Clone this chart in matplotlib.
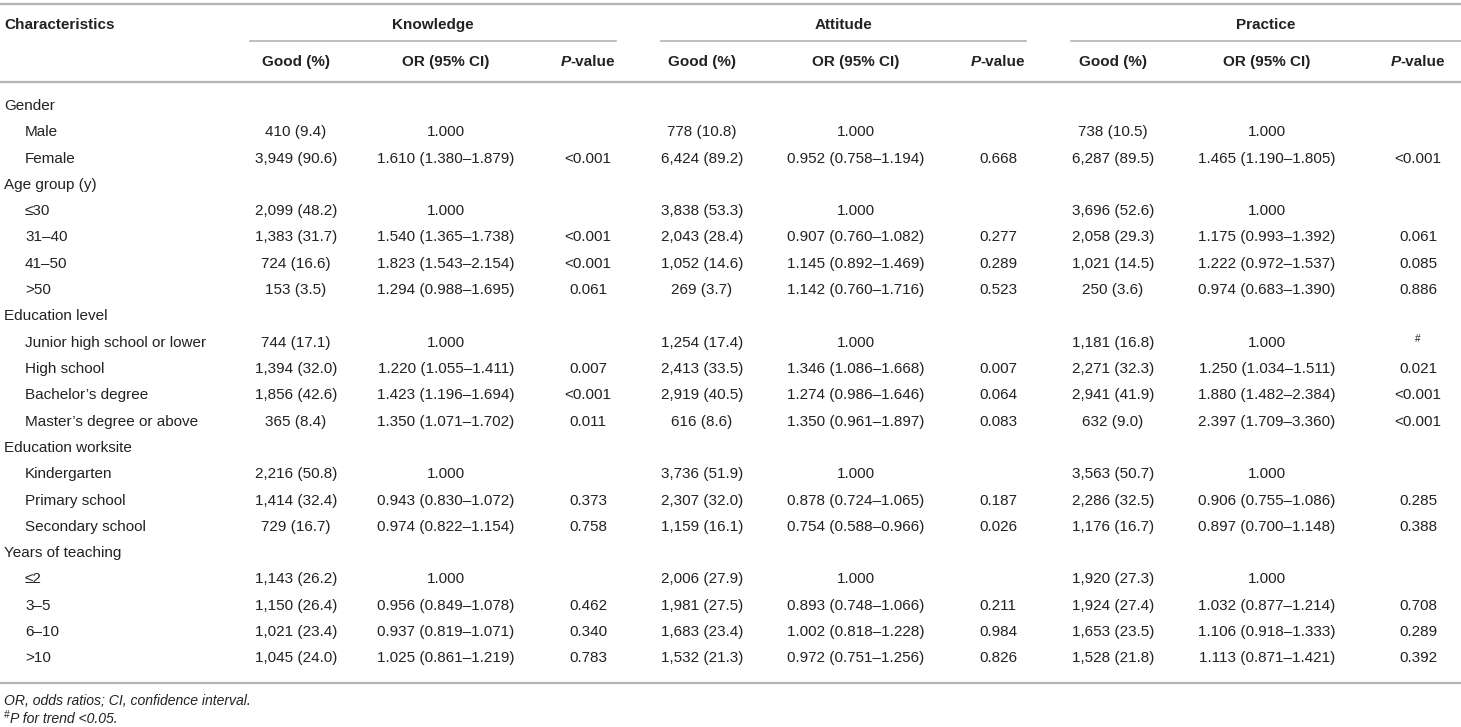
import matplotlib
matplotlib.use("Agg")
import matplotlib.pyplot as plt

plt.rcParams['font.family'] = ['Liberation Sans', 'DejaVu Sans']

# 表格数据
row_labels = ["Gender", "Male", "Female", "Age group (y)", "≤30", "31–40", "41–50", ">50",
              "Education level", "Junior high school or lower", "High school", "Bachelor’s degree",
              "Master’s degree or above", "Education worksite", "Kindergarten", "Primary school",
              "Secondary school", "Years of teaching", "≤2", "3–5", "6–10", ">10"]
group_rows = ["Gender", "Age group (y)", "Education level", "Education worksite", "Years of teaching"]

domains = ["Knowledge", "Attitude", "Practice"]
sub_headers = ["Good (%)", "OR (95% CI)", "P-value"]

knowledge_good = ["", "410 (9.4)", "3,949 (90.6)", "", "2,099 (48.2)", "1,383 (31.7)", "724 (16.6)", "153 (3.5)",
                  "", "744 (17.1)", "1,394 (32.0)", "1,856 (42.6)", "365 (8.4)", "", "2,216 (50.8)",
                  "1,414 (32.4)", "729 (16.7)", "", "1,143 (26.2)", "1,150 (26.4)", "1,021 (23.4)", "1,045 (24.0)"]
knowledge_or = ["", "1.000", "1.610 (1.380–1.879)", "", "1.000", "1.540 (1.365–1.738)", "1.823 (1.543–2.154)",
                "1.294 (0.988–1.695)", "", "1.000", "1.220 (1.055–1.411)", "1.423 (1.196–1.694)",
                "1.350 (1.071–1.702)", "", "1.000", "0.943 (0.830–1.072)", "0.974 (0.822–1.154)", "",
                "1.000", "0.956 (0.849–1.078)", "0.937 (0.819–1.071)", "1.025 (0.861–1.219)"]
knowledge_p = ["", "", "<0.001", "", "", "<0.001", "<0.001", "0.061", "", "", "0.007", "<0.001", "0.011",
               "", "", "0.373", "0.758", "", "", "0.462", "0.340", "0.783"]

attitude_good = ["", "778 (10.8)", "6,424 (89.2)", "", "3,838 (53.3)", "2,043 (28.4)", "1,052 (14.6)", "269 (3.7)",
                 "", "1,254 (17.4)", "2,413 (33.5)", "2,919 (40.5)", "616 (8.6)", "", "3,736 (51.9)",
                 "2,307 (32.0)", "1,159 (16.1)", "", "2,006 (27.9)", "1,981 (27.5)", "1,683 (23.4)", "1,532 (21.3)"]
attitude_or = ["", "1.000", "0.952 (0.758–1.194)", "", "1.000", "0.907 (0.760–1.082)", "1.145 (0.892–1.469)",
               "1.142 (0.760–1.716)", "", "1.000", "1.346 (1.086–1.668)", "1.274 (0.986–1.646)",
               "1.350 (0.961–1.897)", "", "1.000", "0.878 (0.724–1.065)", "0.754 (0.588–0.966)", "",
               "1.000", "0.893 (0.748–1.066)", "1.002 (0.818–1.228)", "0.972 (0.751–1.256)"]
attitude_p = ["", "", "0.668", "", "", "0.277", "0.289", "0.523", "", "", "0.007", "0.064", "0.083",
              "", "", "0.187", "0.026", "", "", "0.211", "0.984", "0.826"]

practice_good = ["", "738 (10.5)", "6,287 (89.5)", "", "3,696 (52.6)", "2,058 (29.3)", "1,021 (14.5)", "250 (3.6)",
                 "", "1,181 (16.8)", "2,271 (32.3)", "2,941 (41.9)", "632 (9.0)", "", "3,563 (50.7)",
                 "2,286 (32.5)", "1,176 (16.7)", "", "1,920 (27.3)", "1,924 (27.4)", "1,653 (23.5)", "1,528 (21.8)"]
practice_or = ["", "1.000", "1.465 (1.190–1.805)", "", "1.000", "1.175 (0.993–1.392)", "1.222 (0.972–1.537)",
               "0.974 (0.683–1.390)", "", "1.000", "1.250 (1.034–1.511)", "1.880 (1.482–2.384)",
               "2.397 (1.709–3.360)", "", "1.000", "0.906 (0.755–1.086)", "0.897 (0.700–1.148)", "",
               "1.000", "1.032 (0.877–1.214)", "1.106 (0.918–1.333)", "1.113 (0.871–1.421)"]
practice_p = ["", "", "<0.001", "", "", "0.061", "0.085", "0.886", "", "#", "0.021", "<0.001", "<0.001",
              "", "", "0.285", "0.388", "", "", "0.708", "0.289", "0.392"]

footnote_1 = "OR, odds ratios; CI, confidence interval."
footnote_2 = "P for trend <0.05."

# 布局（像素坐标）
W, H = 1461, 727
fs = 11
txt_color = "#222222"
line_color = "#b4b4b4"
col_x = [[296, 446, 588], [702, 856, 998], [1113, 1267, 1418]]
group_span = [(250, 616), (661, 1026), (1071, 1461)]
row_y0, row_dy = 105, 26.3
base = 5  # 基线相对行中心的偏移

fig = plt.figure(figsize=(W / 100, H / 100), dpi=100)
ax = fig.add_axes([0, 0, 1, 1])
ax.set_xlim(0, W)
ax.set_ylim(H, 0)
ax.axis('off')
renderer = fig.canvas.get_renderer()

def width_px(t):
    bb = t.get_window_extent(renderer=renderer)
    return bb.width

# 横线
ax.plot([0, W], [4, 4], color=line_color, lw=1.6)
ax.plot([0, W], [82, 82], color=line_color, lw=1.6)
ax.plot([0, W], [683, 683], color=line_color, lw=1.6)
for x0, x1 in group_span:
    ax.plot([x0, x1], [41, 41], color=line_color, lw=1.2)

# 表头
ax.text(4, 24 + base, "Characteristics", fontsize=fs, fontweight='bold', color=txt_color, va='baseline', ha='left')
for g, name in enumerate(domains):
    x0, x1 = group_span[g]
    ax.text((x0 + x1) / 2, 24 + base, name, fontsize=fs, fontweight='bold', color=txt_color,
            va='baseline', ha='center')
    for c, sh in enumerate(sub_headers):
        cx = col_x[g][c]
        if sh == "P-value":
            tp = ax.text(0, 61 + base, "P", fontsize=fs, fontweight='bold', fontstyle='italic',
                         color=txt_color, va='baseline')
            tv = ax.text(0, 61 + base, "-value", fontsize=fs, fontweight='bold', color=txt_color, va='baseline')
            wp, wv = width_px(tp), width_px(tv)
            left = cx - (wp + wv) / 2
            tp.set_x(left)
            tv.set_x(left + wp)
        else:
            ax.text(cx, 61 + base, sh, fontsize=fs, fontweight='bold', color=txt_color, va='baseline', ha='center')

# 表体
columns = [[knowledge_good, knowledge_or, knowledge_p],
           [attitude_good, attitude_or, attitude_p],
           [practice_good, practice_or, practice_p]]
for i, label in enumerate(row_labels):
    y = round(row_y0 + i * row_dy)
    x = 4 if label in group_rows else 25
    ax.text(x, y + base, label, fontsize=fs, color=txt_color, va='baseline', ha='left')
    for g in range(3):
        for c in range(3):
            val = columns[g][c][i]
            if not val:
                continue
            if val == "#":
                ax.text(col_x[g][c], y, val, fontsize=fs * 0.65, color=txt_color, va='baseline', ha='center')
            else:
                ax.text(col_x[g][c], y + base, val, fontsize=fs, color=txt_color, va='baseline', ha='center')

# 脚注
ax.text(4, 705, footnote_1, fontsize=fs * 0.92, fontstyle='italic', color=txt_color, va='baseline', ha='left')
ts = ax.text(4, 718, "#", fontsize=fs * 0.65, fontstyle='italic', color=txt_color, va='baseline', ha='left')
ax.text(4 + width_px(ts) + 0.5, 723, footnote_2, fontsize=fs * 0.92, fontstyle='italic', color=txt_color,
        va='baseline', ha='left')

fig.savefig("out.png", dpi=100)
